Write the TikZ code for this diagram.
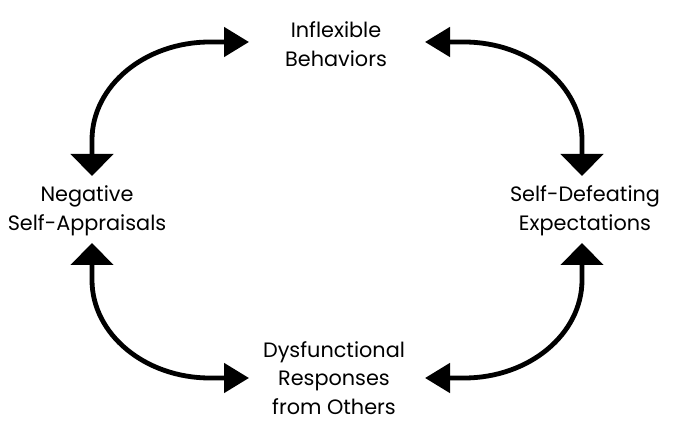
\documentclass[tikz,border=0pt]{standalone}
\usepackage{fontspec}
\setmainfont{Poppins}
\usetikzlibrary{arrows.meta}
\tikzset{
  link/.style={line width=4.8pt},
  lbl/.style={align=center,font=\fontsize{20.8pt}{28.5pt}\selectfont,inner sep=0pt},
}
\begin{document}
\begin{tikzpicture}[x=1pt,y=1pt]
\useasboundingbox (0,0) rectangle (682,-435);
% labels
\node[lbl] (top) at (336,-44) {Inflexible\\Behaviors};
\node[lbl] (left) at (87,-211) {Negative\\Self-Appraisals};
\node[lbl] (right) at (585,-211) {Self-Defeating\\Expectations};
\node[lbl] (bottom) at (334,-378) {Dysfunctional\\Responses\\from Others};
% arrow end points
\coordinate (tl) at (249,-42);
\coordinate (lt) at (92,-176);
\coordinate (tr) at (425,-42);
\coordinate (rt) at (582,-176);
\coordinate (lb) at (92,-243);
\coordinate (bl) at (249,-378);
\coordinate (rb) at (582,-243);
\coordinate (br) at (425,-378);
% connectors
\draw[link,{Triangle[length=25pt,width=29pt]}-{Triangle[length=22pt,width=42pt]}]
  (tl) -- ++(-39,0) arc[start angle=90,end angle=180,x radius=118,y radius=98] -- (lt);
\draw[link,{Triangle[length=25pt,width=29pt]}-{Triangle[length=22pt,width=42pt]}]
  (tr) -- ++(39,0) arc[start angle=90,end angle=0,x radius=118,y radius=98] -- (rt);
\draw[link,{Triangle[length=22pt,width=42pt]}-{Triangle[length=25pt,width=29pt]}]
  (lb) -- ++(0,-37) arc[start angle=180,end angle=270,x radius=118,y radius=98] -- (bl);
\draw[link,{Triangle[length=22pt,width=42pt]}-{Triangle[length=25pt,width=29pt]}]
  (rb) -- ++(0,-37) arc[start angle=0,end angle=-90,x radius=118,y radius=98] -- (br);
\end{tikzpicture}
\end{document}
